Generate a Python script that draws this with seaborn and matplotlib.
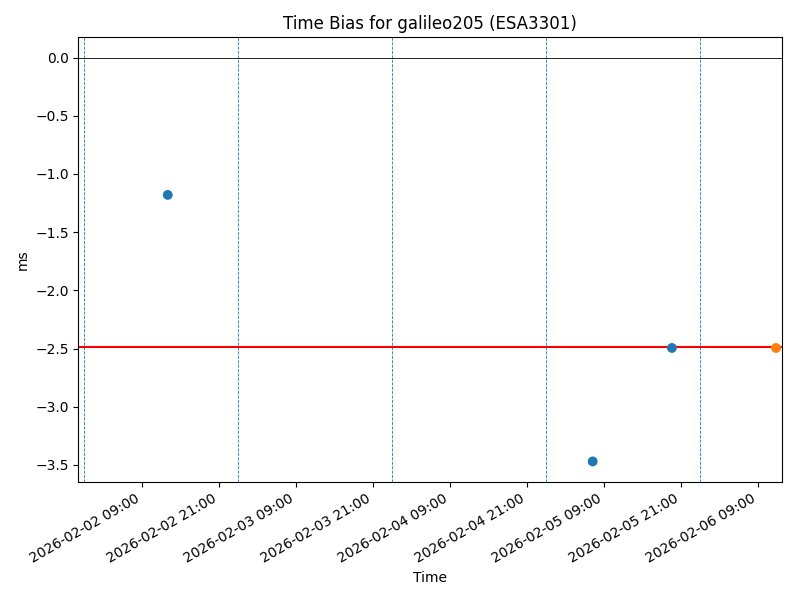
import matplotlib
matplotlib.use("Agg")
import matplotlib.pyplot as plt
import matplotlib.dates as mdates
import seaborn as sns
import pandas as pd

# observations (ms)
times = ["2026-02-02 13:00", "2026-02-05 07:15", "2026-02-05 19:36", "2026-02-06 11:50"]
bias_ms = [-1.18, -3.47, -2.495, -2.495]
group = ["history", "history", "history", "latest"]

mean_bias = -2.49
day_marks = ["2026-02-02", "2026-02-03", "2026-02-04", "2026-02-05", "2026-02-06"]

df = pd.DataFrame({"Time": pd.to_datetime(times), "ms": bias_ms, "group": group})

fig, ax = plt.subplots(figsize=(8, 6), dpi=100)

for d in day_marks:
    ax.axvline(pd.Timestamp(d), color="#1f77b4", linestyle="--", linewidth=0.6)
ax.axhline(0, color="black", linewidth=0.6)
ax.axhline(mean_bias, color="red", linewidth=1.5)

sns.scatterplot(data=df, x="Time", y="ms", hue="group",
                palette={"history": "#1f77b4", "latest": "#ff7f0e"},
                s=50, linewidth=0, legend=False, ax=ax, zorder=3)

ax.set_xlim(pd.Timestamp("2026-02-01 23:04"), pd.Timestamp("2026-02-06 12:46"))
ax.set_ylim(-3.645, 0.175)
ax.xaxis.set_major_locator(mdates.HourLocator(byhour=[9, 21]))
ax.xaxis.set_major_formatter(mdates.DateFormatter("%Y-%m-%d %H:%M"))
ax.set_title("Time Bias for galileo205 (ESA3301)")
ax.set_xlabel("Time")
ax.set_ylabel("ms")
fig.autofmt_xdate()
fig.subplots_adjust(left=0.098, right=0.9775, top=0.938, bottom=0.197)
fig.savefig("out.png")
